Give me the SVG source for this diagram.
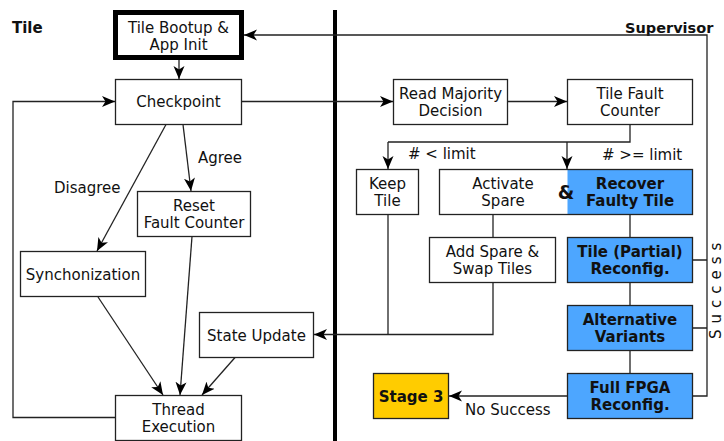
<svg xmlns="http://www.w3.org/2000/svg" width="724" height="441" viewBox="0 0 724 441">
<style>
text{font-family:"DejaVu Sans","Liberation Sans",sans-serif;font-size:15px;fill:#111}
.c{text-anchor:middle}
.b{font-weight:bold}
.box{fill:#fff;stroke:#222;stroke-width:1.3}
.blue{fill:#4da6ff;stroke:#222;stroke-width:1.3}
.ln{fill:none;stroke:#222;stroke-width:1.3}
.ar{marker-end:url(#ah)}
</style>
<defs>
<marker id="ah" viewBox="-13 -6 14 12" refX="0" refY="0" markerWidth="14" markerHeight="12" markerUnits="userSpaceOnUse" orient="auto">
<path d="M0,0 L-13,-5.5 L-9.5,0 L-13,5.5 Z" fill="#000"/>
</marker>
</defs>
<rect x="0" y="0" width="724" height="441" fill="#fff"/>
<line x1="335" y1="10" x2="335" y2="441" stroke="#000" stroke-width="4"/>
<text x="12" y="33" class="b">Tile</text>
<text x="625" y="33" class="b" style="font-size:14.5px">Supervisor</text>

<g id="connectors">
<path class="ln ar" d="M179,60 V79"/>
<path class="ln ar" d="M115.5,417.5 H13 V101.5 H115"/>
<path class="ln ar" d="M241.5,101.5 H393"/>
<path class="ln ar" d="M507.5,101.5 H567"/>
<path class="ln" d="M630,124.5 V142 H388"/>
<path class="ln ar" d="M388,142 V169"/>
<path class="ln ar" d="M567,142 V169"/>
<path class="ln ar" d="M166,124.5 L97,251"/>
<path class="ln ar" d="M183,124.5 L191,191"/>
<path class="ln ar" d="M98,297 L163,395"/>
<path class="ln ar" d="M192,236.5 L180,395"/>
<path class="ln ar" d="M235,357.5 L202,395"/>
<path class="ln" d="M388,214.5 V334.5"/>
<path class="ln" d="M493,214.5 V237.5"/>
<path class="ln ar" d="M493,282.5 V334.5 H314"/>
<path class="ln" d="M630,214.5 V237.5 M630,282.5 V305.5 M630,350.5 V373.5"/>
<path class="ln" d="M692.5,260 H707 M692.5,328 H707"/>
<path class="ln ar" d="M692.5,396 H707 V35 H244"/>
<path class="ln ar" d="M567.5,396 H449"/>
<text x="198" y="162.5">Agree</text>
<text x="54" y="193">Disagree</text>
<text x="408" y="159">#  &lt; limit</text>
<text x="602" y="160">#  &gt;= limit</text>
<text x="465" y="415">No Success</text>
<text transform="translate(721,339) rotate(-90)" style="letter-spacing:6px">Success</text>
</g>

<g id="boot">
<rect x="115.5" y="12.5" width="126" height="45" fill="#fff" stroke="#000" stroke-width="5"/>
<text x="178.5" y="32.5" class="c">Tile Bootup &amp;</text>
<text x="178.5" y="49.5" class="c">App Init</text>
</g>
<g id="checkpoint">
<rect class="box" x="115.5" y="79.5" width="126" height="45"/>
<text x="178.5" y="107" class="c">Checkpoint</text>
</g>
<g id="readmaj">
<rect class="box" x="393.5" y="79.5" width="114" height="45"/>
<text x="450.5" y="99" class="c">Read Majority</text>
<text x="450.5" y="116" class="c">Decision</text>
</g>
<g id="tfc">
<rect class="box" x="567.5" y="79.5" width="125" height="45"/>
<text x="630" y="99" class="c">Tile Fault</text>
<text x="630" y="116" class="c">Counter</text>
</g>
<g id="reset">
<rect class="box" x="137.5" y="191.5" width="113" height="45"/>
<text x="194" y="211" class="c">Reset</text>
<text x="194" y="228" class="c">Fault Counter</text>
</g>
<g id="sync">
<rect class="box" x="20.5" y="251.5" width="125" height="45"/>
<text x="83" y="279.5" class="c">Synchonization</text>
</g>
<g id="state">
<rect class="box" x="199.5" y="312.5" width="114" height="45"/>
<text x="256.5" y="340.5" class="c">State Update</text>
</g>
<g id="thread">
<rect class="box" x="115.5" y="395.5" width="126" height="45"/>
<text x="178.5" y="415" class="c">Thread</text>
<text x="178.5" y="432" class="c">Execution</text>
</g>
<g id="keep">
<rect class="box" x="356.5" y="169.5" width="62" height="45"/>
<text x="387.5" y="188.5" class="c">Keep</text>
<text x="387.5" y="206" class="c">Tile</text>
</g>
<g id="activate">
<rect x="567.5" y="169.5" width="125" height="45" fill="#4da6ff"/>
<rect x="439.5" y="169.5" width="253" height="45" fill="none" stroke="#222" stroke-width="1.3"/>
<text x="503" y="188.5" class="c">Activate</text>
<text x="503" y="206" class="c">Spare</text>
<text x="566" y="199" class="c b" style="font-size:19px">&amp;</text>
<text x="630" y="188.5" class="c b">Recover</text>
<text x="630" y="206" class="c b">Faulty Tile</text>
</g>
<g id="addspare">
<rect class="box" x="429.5" y="237.5" width="126" height="45"/>
<text x="492.5" y="256.5" class="c">Add Spare &amp;</text>
<text x="492.5" y="274" class="c">Swap Tiles</text>
</g>
<g id="tilepartial">
<rect class="blue" x="567.5" y="237.5" width="125" height="45"/>
<text x="630" y="256.5" class="c b">Tile (Partial)</text>
<text x="630" y="274" class="c b">Reconfig.</text>
</g>
<g id="alt">
<rect class="blue" x="567.5" y="305.5" width="125" height="45"/>
<text x="630" y="324.5" class="c b">Alternative</text>
<text x="630" y="342" class="c b">Variants</text>
</g>
<g id="full">
<rect class="blue" x="567.5" y="373.5" width="125" height="45"/>
<text x="630" y="392.5" class="c b">Full FPGA</text>
<text x="630" y="410" class="c b">Reconfig.</text>
</g>
<g id="stage3">
<rect x="373.5" y="373.5" width="75" height="45" fill="#ffcc00" stroke="#222" stroke-width="1.3"/>
<text x="411" y="401.5" class="c b">Stage 3</text>
</g>
</svg>
